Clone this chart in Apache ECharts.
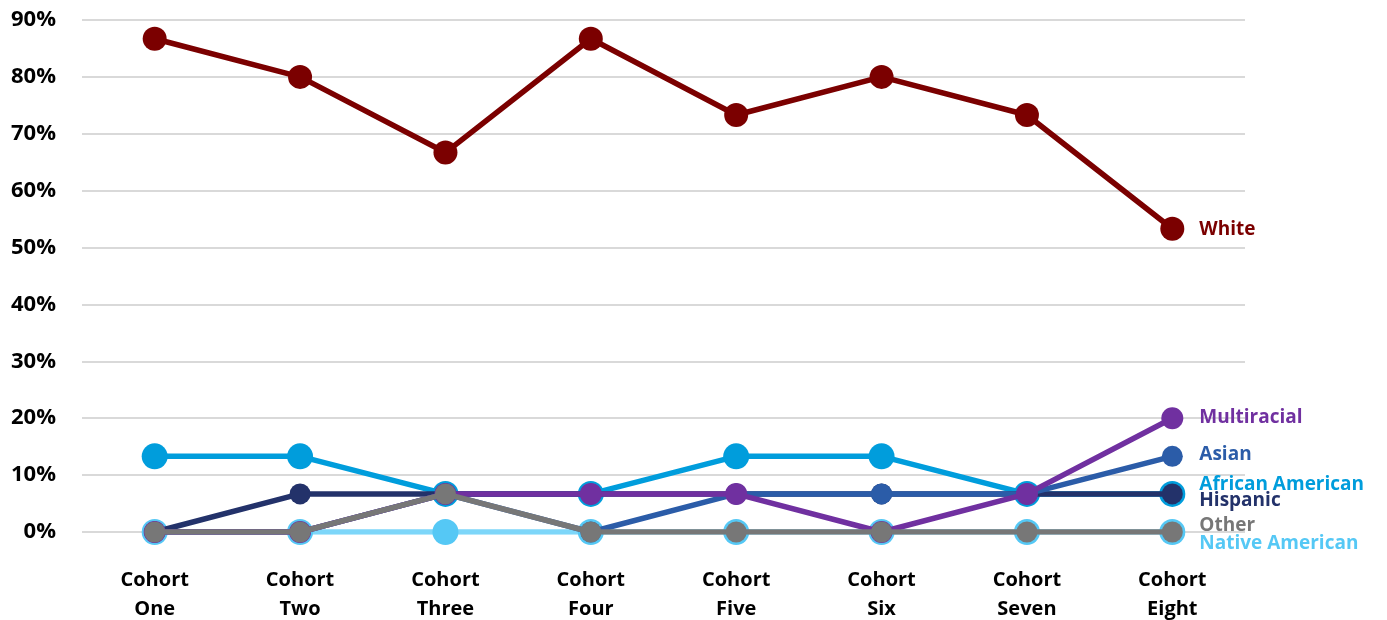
<!DOCTYPE html>
<html>
<head>
<meta charset="utf-8">
<script src="https://cdn.jsdelivr.net/npm/echarts@6/dist/echarts.min.js"></script>
<style>
  html, body { margin: 0; padding: 0; background: #fff; }
  #chart { width: 1387px; height: 620px; }
</style>
</head>
<body>
<div id="chart"></div>
<script>
// Cohort labels along the x axis
const cohorts = ['Cohort\nOne', 'Cohort\nTwo', 'Cohort\nThree', 'Cohort\nFour',
                 'Cohort\nFive', 'Cohort\nSix', 'Cohort\nSeven', 'Cohort\nEight'];

// Share of each cohort by race/ethnicity (percent)
const white           = [86.7, 80.0, 66.7, 86.7, 73.3, 80.0, 73.3, 53.3];
const africanAmerican = [13.3, 13.3, 6.7, 6.7, 13.3, 13.3, 6.7, 6.7];
const hispanic        = [0, 6.7, 6.7, 6.7, 6.7, 6.7, 6.7, 6.7];
const asian           = [0, 0, 6.7, 0, 6.7, 6.7, 6.7, 13.3];
const multiracial     = [0, 0, 6.7, 6.7, 6.7, 0, 6.7, 20.0];
const other           = [0, 0, 6.7, 0, 0, 0, 0, 0];
const nativeAmerican  = [0, 0, 0, 0, 0, 0, 0, 0];

// Y axis ticks
const yMin = 0, yMax = 90, yStep = 10;

const FONT = '"Open Sans", "Noto Sans", sans-serif';

function line(name, data, color, size, labelDy, z, lineColor) {
  return {
    name: name,
    type: 'line',
    data: data,
    z: z,
    symbol: 'circle',
    symbolSize: size,
    showSymbol: true,
    itemStyle: { color: color },
    lineStyle: { color: lineColor || color, width: 5.5 },
    emphasis: { disabled: true },
    endLabel: {
      show: true,
      formatter: '{a}',
      color: color,
      fontFamily: FONT,
      fontWeight: 'bold',
      fontSize: 19,
      distance: 27,
      offset: [0, labelDy]
    },
    animation: false
  };
}

const chart = echarts.init(document.getElementById('chart'));
chart.setOption({
  backgroundColor: '#fff',
  grid: { left: 82, right: 142, top: 20, bottom: 88, containLabel: false, outerBoundsMode: 'none' },
  xAxis: {
    type: 'category',
    data: cohorts,
    boundaryGap: true,
    axisLine: { show: false },
    axisTick: { show: false },
    axisLabel: {
      color: '#000',
      fontFamily: FONT,
      fontWeight: 'bold',
      fontSize: 20,
      lineHeight: 29,
      margin: 34
    }
  },
  yAxis: {
    type: 'value',
    min: yMin,
    max: yMax,
    interval: yStep,
    axisLine: { show: false },
    axisTick: { show: false },
    splitLine: { lineStyle: { color: '#d9d9d9', width: 2 } },
    axisLabel: {
      formatter: v => v + '%',
      color: '#000',
      fontFamily: FONT,
      fontWeight: 'bold',
      fontSize: 22,
      margin: 26
    }
  },
  series: [
    line('Native American', nativeAmerican, '#55c8f5', 26, 12, 2, '#7dd6f9'),
    line('African American', africanAmerican, '#009ddc', 26, -9, 3),
    line('Hispanic', hispanic, '#23326a', 21, 7, 4),
    line('Asian', asian, '#2b5ca8', 21, -2, 5),
    line('Multiracial', multiracial, '#7030a0', 22, -1, 6),
    line('Other', other, '#777777', 21, -6, 7),
    line('White', white, '#7b0000', 24, 1, 8)
  ]
});
</script>
</body>
</html>
